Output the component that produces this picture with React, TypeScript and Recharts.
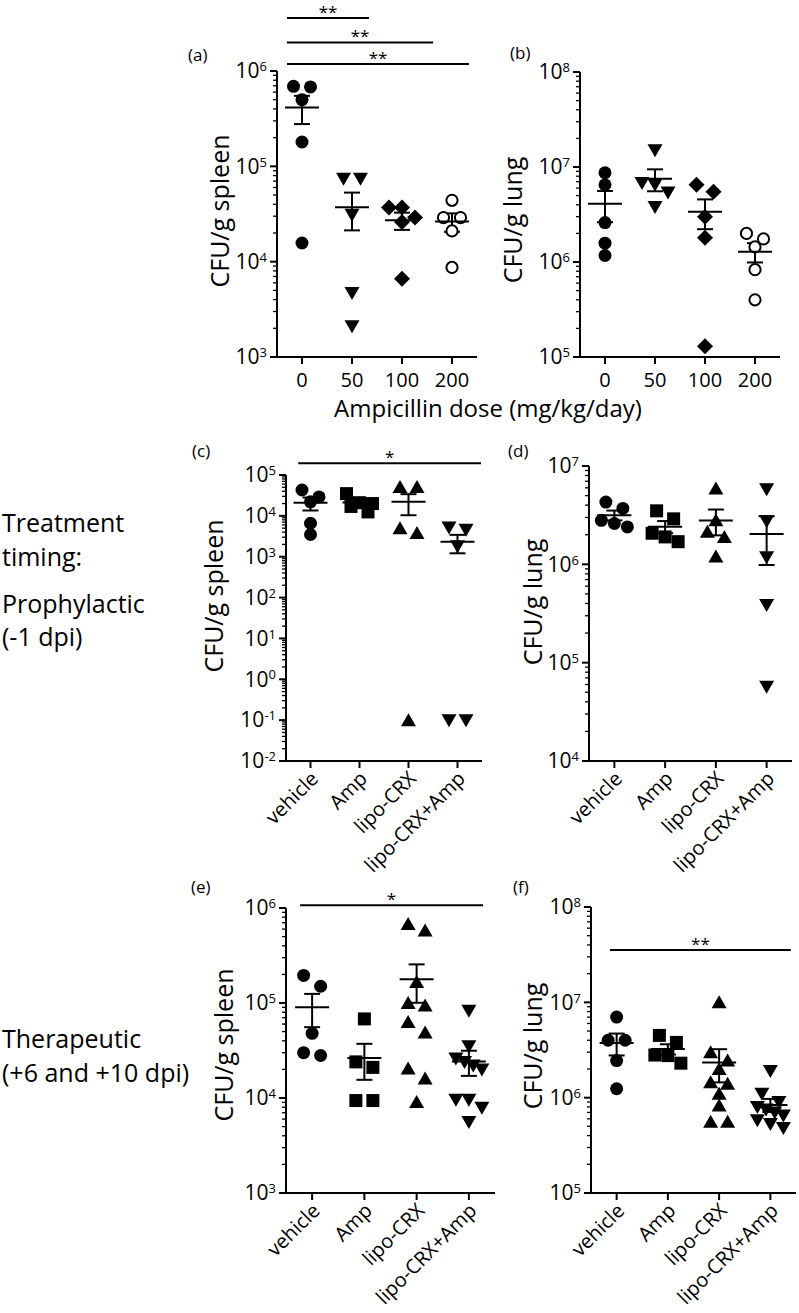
import React from "react";
import { ScatterChart, Scatter, XAxis, YAxis, ErrorBar, ReferenceLine } from "recharts";

const FONT = "'Open Sans', 'Noto Sans', Arial, sans-serif";

// x categories
const doseLabels = ["0", "50", "100", "200"];
const treatLabels = ["vehicle", "Amp", "lipo-CRX", "lipo-CRX+Amp"];

// (a) CFU/g spleen by ampicillin dose
const aDose0 = [6.9e5, 6.8e5, 5.0e5, 1.8e5, 1.57e4];
const aDose50 = [7.4e4, 7.4e4, 3.1e4, 4.7e3, 2.1e3];
const aDose100 = [3.7e4, 3.7e4, 2.9e4, 2.6e4, 6.6e3];
const aDose200 = [4.4e4, 2.9e4, 2.9e4, 2.1e4, 8.7e3];

// (b) CFU/g lung by ampicillin dose
const bDose0 = [8.7e6, 6.5e6, 2.6e6, 1.58e6, 1.17e6];
const bDose50 = [1.5e7, 6.8e6, 6.5e6, 5.4e6, 3.8e6];
const bDose100 = [6.5e6, 5.5e6, 3.0e6, 1.8e6, 1.3e5];
const bDose200 = [2.0e6, 1.75e6, 1.44e6, 8.3e5, 4.0e5];

// (c) prophylactic, spleen
const cVehicle = [4.3e4, 2.9e4, 2.2e4, 6.6e3, 3.5e3];
const cAmp = [3.5e4, 2.1e4, 2.0e4, 1.7e4, 1.25e4];
const cLipo = [5.1e4, 5.1e4, 5.0e3, 3.8e3, 0.1];
const cCombo = [5.2e3, 4.6e3, 1.8e3, 0.1, 0.1];

// (d) prophylactic, lung
const dVehicle = [4.3e6, 3.7e6, 2.8e6, 2.6e6, 2.4e6];
const dAmp = [3.5e6, 2.9e6, 2.07e6, 1.9e6, 1.7e6];
const dLipo = [5.9e6, 2.8e6, 2.15e6, 1.9e6, 1.2e6];
const dCombo = [5.8e6, 2.75e6, 1.18e6, 3.85e5, 5.7e4];

// (e) therapeutic, spleen
const eVehicle = [1.95e5, 1.5e5, 4.8e4, 3.0e4, 2.8e4];
const eAmp = [6.8e4, 2.4e4, 2.1e4, 9.4e3, 9.4e3];
const eLipo = [6.8e5, 5.8e5, 1.66e5, 1.0e5, 9.4e4, 6.3e4, 4.9e4, 2.04e4, 1.6e4, 9.1e3];
const eCombo = [8.3e4, 3.5e4, 2.6e4, 2.4e4, 2.2e4, 2.0e4, 9.6e3, 9.6e3, 7.9e3, 5.6e3];

// (f) therapeutic, lung
const fVehicle = [7.0e6, 4.0e6, 4.0e6, 2.45e6, 1.24e6];
const fAmp = [4.5e6, 3.8e6, 2.8e6, 2.76e6, 2.3e6];
const fLipo = [1.0e7, 3.0e6, 2.46e6, 2.0e6, 1.45e6, 1.4e6, 1.1e6, 8.3e5, 5.6e5, 5.6e5];
const fCombo = [1.9e6, 1.1e6, 9.0e5, 8.0e5, 7.5e5, 7.0e5, 6.5e5, 5.8e5, 5.3e5, 4.8e5];

// significance bars: group range (category units) and height (log10 of CFU)
const aSig = [
  { from: -0.3, to: 1.34, logY: 6.556, text: "**" },
  { from: -0.3, to: 2.62, logY: 6.3, text: "**" },
  { from: -0.3, to: 3.34, logY: 6.073, text: "**" },
];
const cSig = [{ from: -0.25, to: 3.48, logY: 5.29, text: "*" }];
const eSig = [{ from: -0.23, to: 3.27, logY: 6.03, text: "*" }];
const fSig = [{ from: -0.13, to: 3.4, logY: 7.55, text: "**" }];

type Kind = "circle" | "open" | "down" | "up" | "diamond" | "square";

function mean(v: number[]) {
  return v.reduce((s, x) => s + x, 0) / v.length;
}
function sem(v: number[]) {
  const m = mean(v);
  const sd = Math.sqrt(v.reduce((s, x) => s + (x - m) ** 2, 0) / (v.length - 1));
  return sd / Math.sqrt(v.length);
}

// log ticks: decades plus 2..9 minors
function logTicks(lo: number, hi: number) {
  const t: number[] = [];
  for (let e = lo; e < hi; e++) for (let k = 1; k < 10; k++) t.push(k * Math.pow(10, e));
  t.push(Math.pow(10, hi));
  return t;
}

// simple Prism-like scatter spread: points close in y share a row, spread symmetrically
const ROW_PX = 11;
const STEP_PX = 17;
const MAX_SPREAD = 26;
function swarm(vals: number[], ppd: number, band: number) {
  const order = vals.map((_, i) => i).sort((a, b) => vals[b] - vals[a]);
  const off = vals.map(() => 0);
  let row: number[] = [];
  const flush = () => {
    const n = row.length;
    const step = n > 1 ? Math.min(STEP_PX, MAX_SPREAD / (n - 1)) : 0;
    row.forEach((idx, k) => {
      off[idx] = ((k - (n - 1) / 2) * step) / band;
    });
    row = [];
  };
  order.forEach((idx) => {
    if (row.length && (Math.log10(vals[row[0]]) - Math.log10(vals[idx])) * ppd > ROW_PX) flush();
    row.push(idx);
  });
  flush();
  return off;
}

const marker = (kind: Kind) => (p: any) => {
  const { cx, cy } = p;
  switch (kind) {
    case "circle":
      return <circle cx={cx} cy={cy} r={6.5} fill="#000" />;
    case "open":
      return <circle cx={cx} cy={cy} r={5.6} fill="#fff" stroke="#000" strokeWidth={2} />;
    case "down":
      return <path d={`M${cx - 7.5},${cy - 6} L${cx + 7.5},${cy - 6} L${cx},${cy + 7} Z`} fill="#000" />;
    case "up":
      return <path d={`M${cx - 7.5},${cy + 6} L${cx + 7.5},${cy + 6} L${cx},${cy - 7} Z`} fill="#000" />;
    case "diamond":
      return <path d={`M${cx},${cy - 8} L${cx + 8},${cy} L${cx},${cy + 8} L${cx - 8},${cy} Z`} fill="#000" />;
    default:
      return <rect x={cx - 6.5} y={cy - 6.5} width={13} height={13} fill="#000" />;
  }
};

const MeanLine = (p: any) => (
  <line x1={p.cx - 17} x2={p.cx + 17} y1={p.cy} y2={p.cy} stroke="#000" strokeWidth={2} />
);

const LogTick = (p: any) => {
  const { x, y, payload } = p;
  const e = Math.log10(payload.value);
  const major = Math.abs(e - Math.round(e)) < 1e-6;
  return (
    <g>
      <line x1={x - (major ? 7 : 4)} x2={x} y1={y} y2={y} stroke="#000" strokeWidth={major ? 2 : 1.3} />
      {major && (
        <text x={x - 10} y={y} dy="0.35em" textAnchor="end" fontSize={21} fontFamily={FONT} fill="#000">
          10
          <tspan dy="-0.55em" fontSize={13}>
            {Math.round(e)}
          </tspan>
        </text>
      )}
    </g>
  );
};

const YTitle = (p: any) => (
  <text
    x={p.px}
    y={p.py}
    transform={`rotate(-90 ${p.px} ${p.py})`}
    textAnchor="middle"
    dominantBaseline="central"
    fontSize={25}
    fontFamily={FONT}
    fill="#000"
  >
    {p.title}
  </text>
);

interface PanelCfg {
  box: { x: number; y: number; w: number; h: number };
  plot: { l: number; t: number; r: number; b: number };
  exps: [number, number];
  groups: number[][];
  kinds: Kind[];
  cats: string[];
  rotated: boolean;
  title: string;
  titlePos: [number, number];
  sig: { from: number; to: number; logY: number; text: string }[];
}

function Panel({ cfg }: { cfg: PanelCfg }) {
  const { box, plot, exps, groups, kinds, cats, rotated } = cfg;
  const ppd = (plot.b - plot.t) / (exps[1] - exps[0]);
  const band = (plot.r - plot.l) / cats.length;
  const series = groups.map((g, gi) => {
    const off = swarm(g, ppd, band);
    return g.map((v, j) => ({ x: gi + off[j], y: v }));
  });
  const means = groups.map((g, gi) => ({ x: gi, y: mean(g), err: sem(g) }));

  const xTick = (p: any) => {
    const { x, y, payload } = p;
    const label = cats[payload.value];
    return (
      <g>
        <line x1={x} x2={x} y1={y} y2={y + 7} stroke="#000" strokeWidth={2} />
        {rotated ? (
          <text
            transform={`translate(${x + 4},${y + 14}) rotate(-45)`}
            textAnchor="end"
            dy="0.35em"
            fontSize={20}
            fontFamily={FONT}
            fill="#000"
          >
            {label}
          </text>
        ) : (
          <text x={x} y={y + 23} dy="0.35em" textAnchor="middle" fontSize={20} fontFamily={FONT} fill="#000">
            {label}
          </text>
        )}
      </g>
    );
  };

  return (
    <div style={{ position: "absolute", left: box.x, top: box.y }}>
      <ScatterChart
        width={box.w}
        height={box.h}
        margin={{ top: plot.t - box.y, right: box.x + box.w - plot.r, left: 0, bottom: 0 }}
      >
        <XAxis
          type="number"
          dataKey="x"
          domain={[-0.5, cats.length - 0.5]}
          ticks={cats.map((_, i) => i)}
          interval={0}
          allowDataOverflow
          height={box.y + box.h - plot.b}
          tickSize={0}
          tickMargin={0}
          tickLine={false}
          axisLine={{ stroke: "#000", strokeWidth: 2 }}
          tick={xTick}
        />
        <YAxis
          type="number"
          dataKey="y"
          scale="log"
          domain={[Math.pow(10, exps[0]), Math.pow(10, exps[1])]}
          ticks={logTicks(exps[0], exps[1])}
          interval={0}
          allowDataOverflow
          width={plot.l - box.x}
          tickSize={0}
          tickMargin={0}
          tickLine={false}
          axisLine={{ stroke: "#000", strokeWidth: 2 }}
          tick={LogTick}
          label={<YTitle title={cfg.title} px={cfg.titlePos[0] - box.x} py={cfg.titlePos[1] - box.y} />}
        />
        {series.map((d, gi) => (
          <Scatter key={gi} data={d} shape={marker(kinds[gi])} isAnimationActive={false} />
        ))}
        <Scatter data={means} shape={MeanLine} isAnimationActive={false}>
          <ErrorBar dataKey="err" direction="y" width={8} stroke="#000" strokeWidth={2} isAnimationActive={false} />
        </Scatter>
        {cfg.sig.map((s, i) => (
          <ReferenceLine
            key={i}
            segment={[
              { x: s.from, y: Math.pow(10, s.logY) },
              { x: s.to, y: Math.pow(10, s.logY) },
            ]}
            stroke="#000"
            strokeWidth={2}
            ifOverflow="visible"
            label={{ value: s.text, position: "top", offset: 0, fill: "#000", fontSize: 17, fontFamily: FONT }}
          />
        ))}
      </ScatterChart>
    </div>
  );
}

const doseKinds: Kind[] = ["circle", "down", "diamond", "open"];
const treatKinds: Kind[] = ["circle", "square", "up", "down"];

const panels: PanelCfg[] = [
  {
    box: { x: 180, y: 0, w: 310, h: 395 },
    plot: { l: 277, t: 71, r: 477, b: 357 },
    exps: [3, 6],
    groups: [aDose0, aDose50, aDose100, aDose200],
    kinds: doseKinds,
    cats: doseLabels,
    rotated: false,
    title: "CFU/g spleen",
    titlePos: [219, 211],
    sig: aSig,
  },
  {
    box: { x: 490, y: 0, w: 309, h: 395 },
    plot: { l: 580, t: 72, r: 780, b: 357 },
    exps: [5, 8],
    groups: [bDose0, bDose50, bDose100, bDose200],
    kinds: doseKinds,
    cats: doseLabels,
    rotated: false,
    title: "CFU/g lung",
    titlePos: [512, 220],
    sig: [],
  },
  {
    box: { x: 180, y: 430, w: 310, h: 455 },
    plot: { l: 286, t: 475, r: 482, b: 761 },
    exps: [-2, 5],
    groups: [cVehicle, cAmp, cLipo, cCombo],
    kinds: treatKinds,
    cats: treatLabels,
    rotated: true,
    title: "CFU/g spleen",
    titlePos: [213, 596],
    sig: cSig,
  },
  {
    box: { x: 490, y: 430, w: 309, h: 455 },
    plot: { l: 589, t: 466, r: 792, b: 761 },
    exps: [4, 7],
    groups: [dVehicle, dAmp, dLipo, dCombo],
    kinds: treatKinds,
    cats: treatLabels,
    rotated: true,
    title: "CFU/g lung",
    titlePos: [532, 602],
    sig: [],
  },
  {
    box: { x: 180, y: 870, w: 320, h: 443 },
    plot: { l: 286, t: 908, r: 495, b: 1193 },
    exps: [3, 6],
    groups: [eVehicle, eAmp, eLipo, eCombo],
    kinds: treatKinds,
    cats: treatLabels,
    rotated: true,
    title: "CFU/g spleen",
    titlePos: [223, 1045],
    sig: eSig,
  },
  {
    box: { x: 500, y: 870, w: 299, h: 443 },
    plot: { l: 591, t: 907, r: 796, b: 1193 },
    exps: [5, 8],
    groups: [fVehicle, fAmp, fLipo, fCombo],
    kinds: treatKinds,
    cats: treatLabels,
    rotated: true,
    title: "CFU/g lung",
    titlePos: [532, 1046],
    sig: fSig,
  },
];

const txt = (s: string, left: number, cy: number, size: number, center = false) => {
  const h = Math.round(size * 1.3);
  return (
    <div
      key={s + left + cy}
      style={{
        position: "absolute",
        left,
        top: cy - h / 2,
        height: h,
        lineHeight: `${h}px`,
        fontSize: size,
        fontFamily: FONT,
        whiteSpace: "nowrap",
        color: "#000",
        transform: center ? "translateX(-50%)" : undefined,
      }}
    >
      {s}
    </div>
  );
};

export default function App() {
  return (
    <div style={{ position: "absolute", left: 0, top: 0, width: 799, height: 1313, background: "#fff", overflow: "hidden" }}>
      {panels.map((p, i) => (
        <Panel key={i} cfg={p} />
      ))}
      {txt("(a)", 188, 55, 17)}
      {txt("(b)", 510, 53, 17)}
      {txt("(c)", 192, 451, 17)}
      {txt("(d)", 508, 451, 17)}
      {txt("(e)", 191, 887, 17)}
      {txt("(f)", 513, 887, 17)}
      {txt("Ampicillin dose (mg/kg/day)", 488, 407, 24, true)}
      {txt("Treatment", 2, 522, 25)}
      {txt("timing:", 2, 556, 25)}
      {txt("Prophylactic", 2, 603, 25)}
      {txt("(-1 dpi)", 2, 636, 25)}
      {txt("Therapeutic", 2, 1038, 25)}
      {txt("(+6 and +10 dpi)", 2, 1072, 25)}
    </div>
  );
}
